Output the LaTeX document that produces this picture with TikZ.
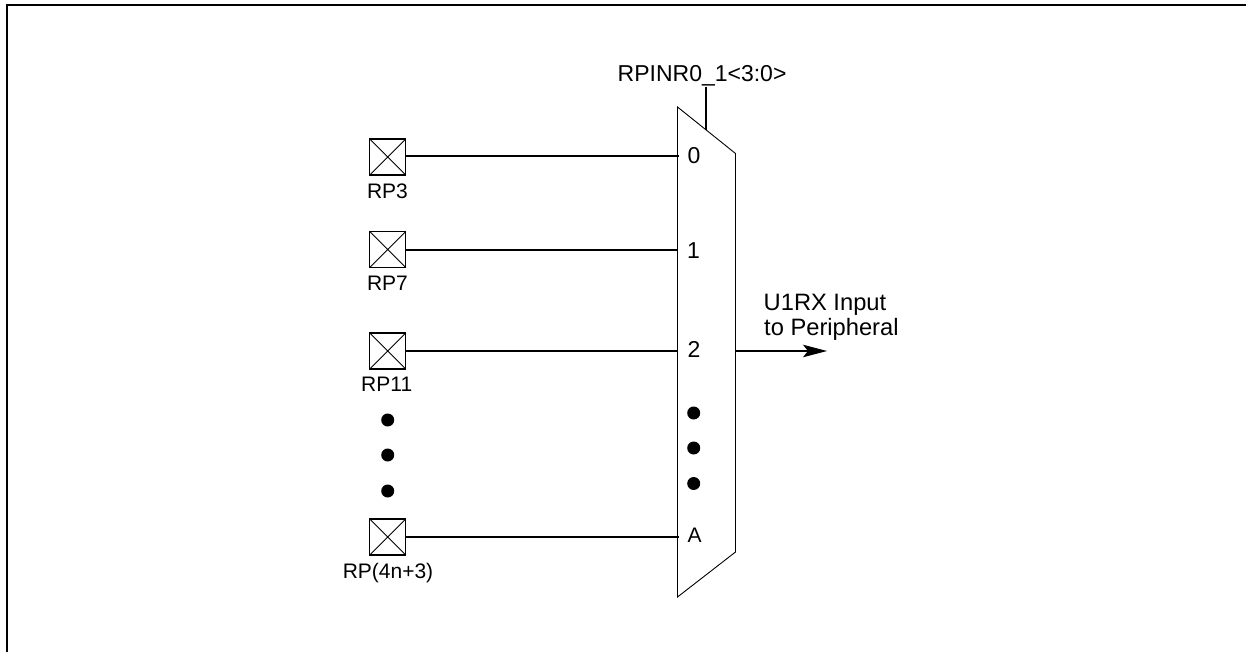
\documentclass[tikz,border=0pt]{standalone}
\usepackage{fontspec}
\setmainfont{Liberation Sans}
\usetikzlibrary{arrows.meta}
\begin{document}
\begin{tikzpicture}[x=1pt,y=-1pt,
  thick line/.style={line width=1.5pt},
  thin line/.style={line width=0.9pt},
  pinbox/.style={draw=black,line width=1.5pt,fill=white,minimum width=36pt,minimum height=36pt,inner sep=0pt,outer sep=0pt},
  pinlabel/.style={font=\fontsize{21}{24}\selectfont,inner sep=0pt,text=black,anchor=base},
  muxlabel/.style={font=\fontsize{23}{26}\selectfont,inner sep=0pt,text=black,anchor=base},
  outlabel/.style={font=\fontsize{23.7}{26}\selectfont,inner sep=0pt,text=black,anchor=base west},
  dotmark/.style={circle,fill=black,minimum size=13pt,inner sep=0pt}]
\useasboundingbox (0,0) rectangle (1246,652);
\fill[white] (0,0) rectangle (1246,652);
% frame
\draw[line width=2pt] (7,652) -- (7,5) -- (1246,5);
% mux
\coordinate (mtl) at (677.5,107);
\coordinate (mtr) at (735.5,153.5);
\coordinate (mbr) at (735.5,552);
\coordinate (mbl) at (677.5,597);
\draw[thin line,line join=miter] (mtl) -- (mtr) -- (mbr) -- (mbl) -- cycle;
% pins
\foreach \n/\y in {a/157,b/249.5,c/351,d/537}{
  \node[pinbox] (\n) at (387.7,\y) {};
  \draw[thin line] (\n.north west) -- (\n.south east) (\n.north east) -- (\n.south west);
}
\node[pinlabel] (la) at (387.5,198.3) {RP3};
\node[pinlabel] (lb) at (387.5,290.7) {RP7};
\node[pinlabel] (lc) at (386.7,391.7) {RP11};
\node[pinlabel] (ld) at (388,578.3) {RP(4n+3)};
% mux input labels
\node[muxlabel] (m0) at (694,164) {0};
\node[muxlabel] (m1) at (693.5,258.3) {1};
\node[muxlabel] (m2) at (694,357.5) {2};
\node[pinlabel] (mA) at (694.7,542.7) {A};
% wires
\coordinate (ia) at (678.5,156);
\coordinate (ib) at (677.5,250);
\coordinate (ic) at (677.5,351);
\coordinate (id) at (678.5,537);
\draw[thick line] (a.east |- ia) -- (ia);
\draw[thick line] (b.east |- ib) -- (ib);
\draw[thick line] (c.east |- ic) -- (ic);
\draw[thick line] (d.east |- id) -- (id);
% dots
\foreach \n/\x/\y in {p1/387.7/420,p2/387.7/455,p3/387.7/491,q1/693.7/413,q2/693.7/448,q3/693.7/483.5}{
  \node[dotmark] (\n) at (\x,\y) {};
}
% control
\node[muxlabel,anchor=base west] (ctl) at (617.5,81.7) {RPINR0\_1<3:0>};
\coordinate (ctop) at (706,87);
\coordinate (cbot) at (706,130);
\draw[thick line] (ctop) -- (cbot);
% output
\coordinate (ostart) at (735.5,351);
\coordinate (oend) at (827,351);
\draw[thick line,-{Stealth[length=24pt,width=12.5pt,inset=5pt]}] (ostart) -- (oend);
\node[outlabel] (o1) at (763.5,310) {U1RX Input};
\node[outlabel] (o2) at (764,335) {to Peripheral};
\end{tikzpicture}
\end{document}
